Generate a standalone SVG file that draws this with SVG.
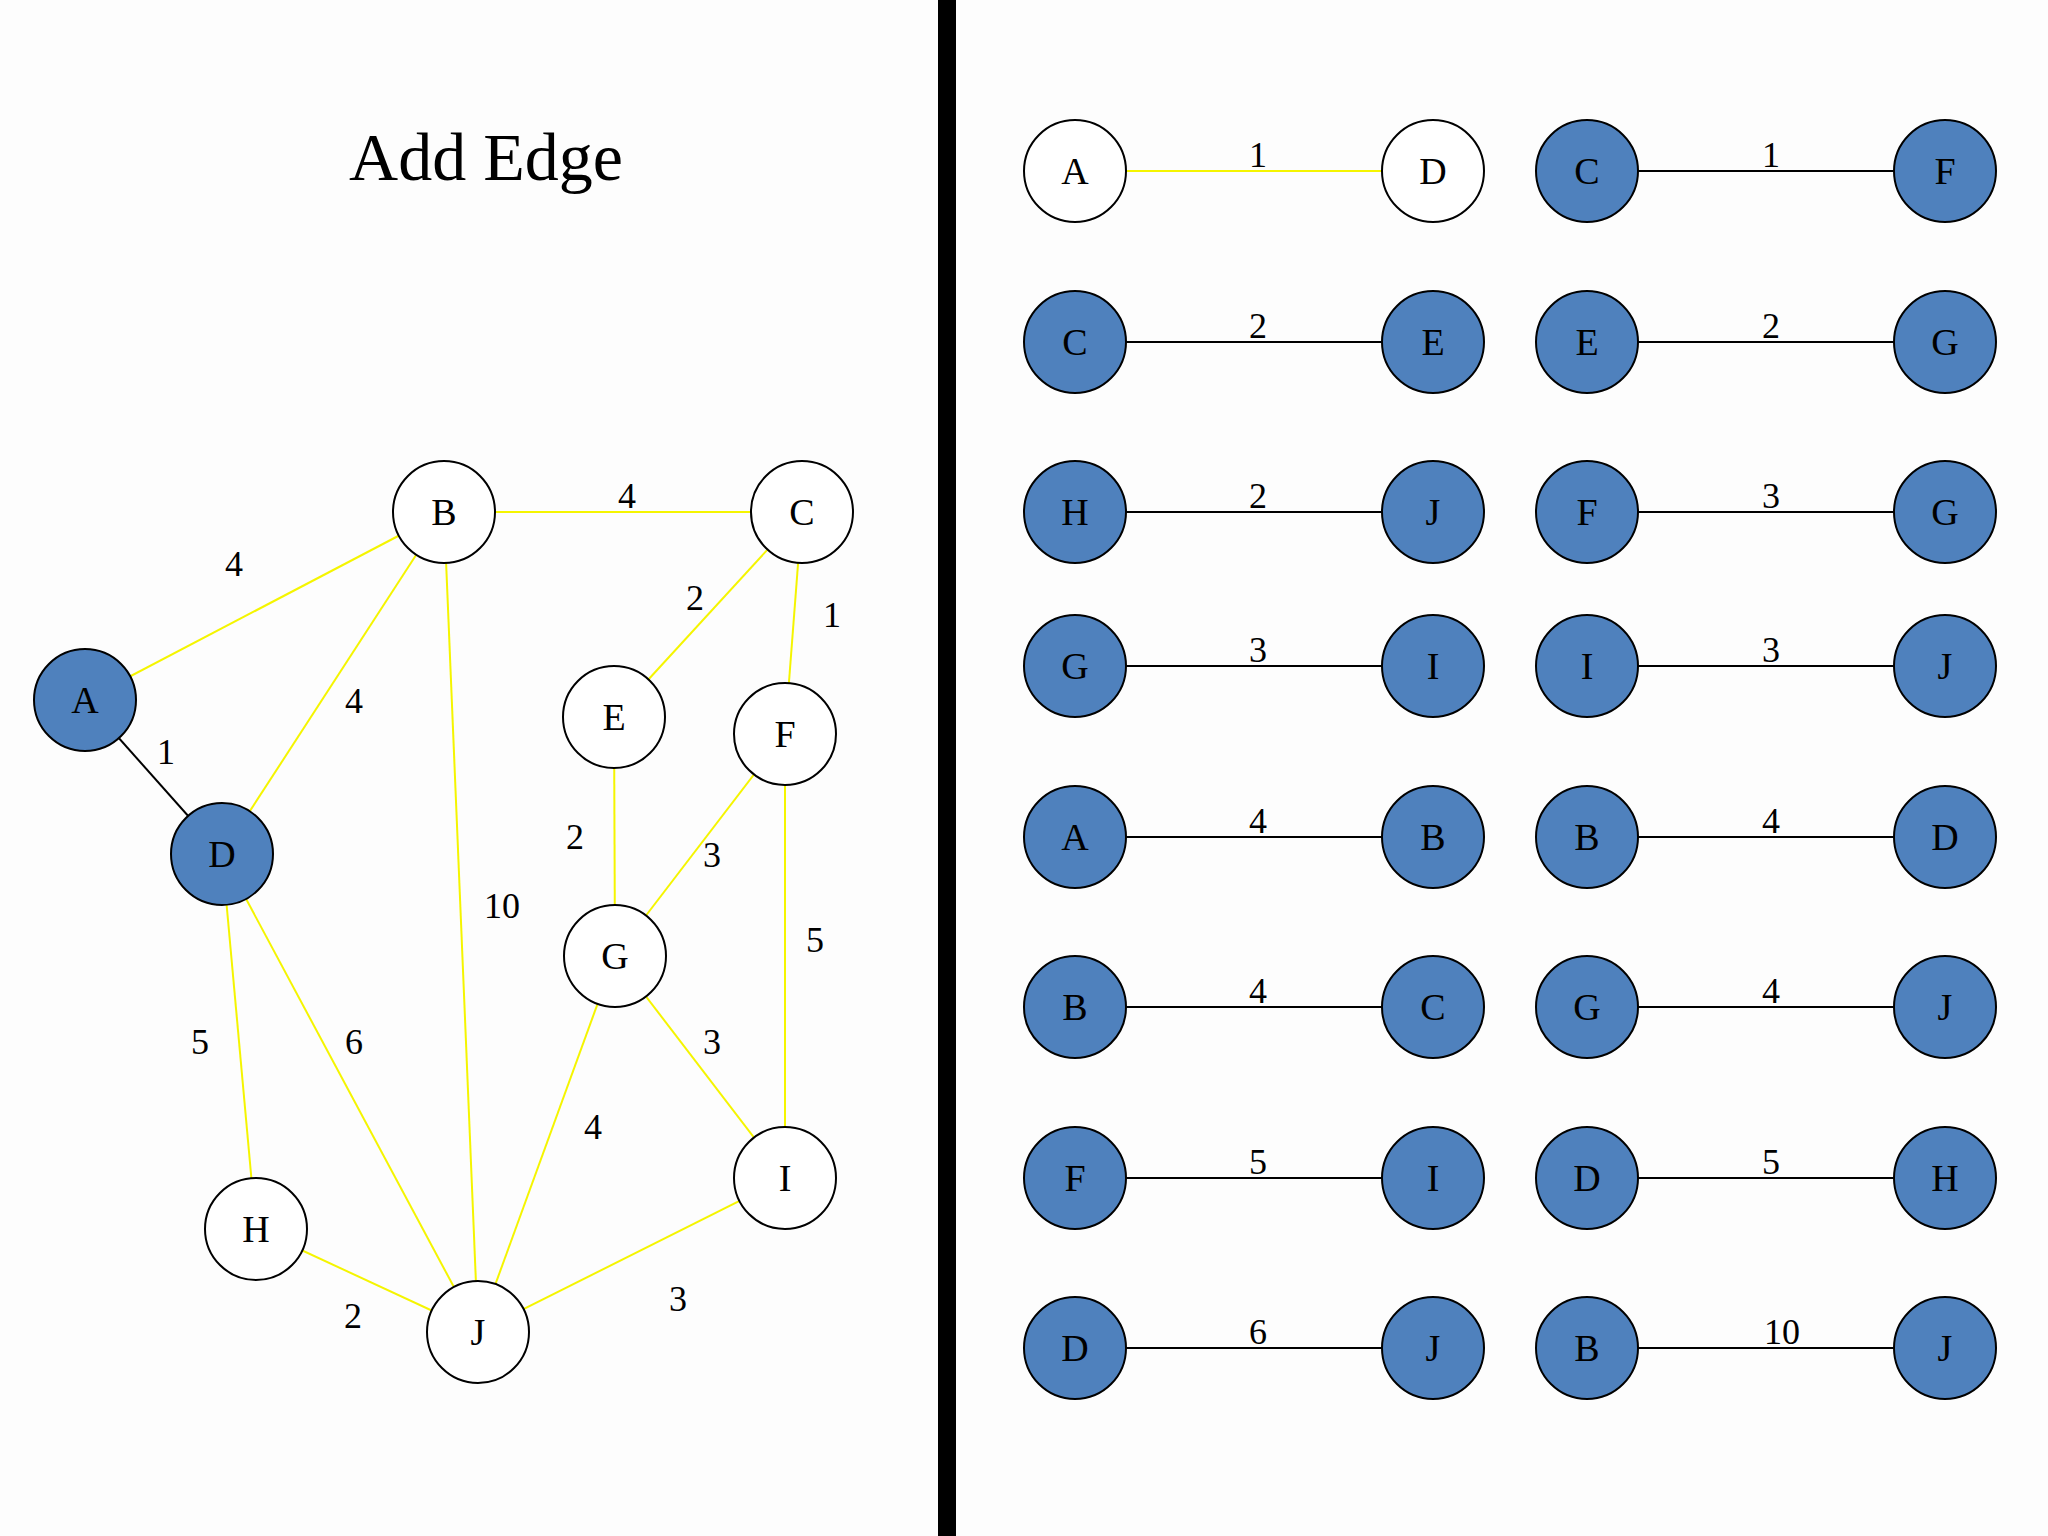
<svg xmlns="http://www.w3.org/2000/svg" width="2048" height="1536" viewBox="0 0 2048 1536">
<style>
text{font-family:"Liberation Serif","Times New Roman",serif;fill:#000;text-anchor:middle;dominant-baseline:central}
.n{font-size:38px}.l{font-size:36px}
circle{stroke:#000;stroke-width:2}
.w{fill:#fff}.b{fill:#4F81BD}
.y{stroke:#f5f500;stroke-width:2}
.k{stroke:#000;stroke-width:2}
</style>
<rect width="2048" height="1536" fill="#fdfdfd"/>
<rect x="938" y="0" width="18" height="1536" fill="#000"/>
<text x="486" y="157" style="font-size:68px">Add Edge</text>
<g id="connectors">
<line class="y" x1="85" y1="700" x2="444" y2="512"/>
<line class="k" x1="85" y1="700" x2="222" y2="854"/>
<line class="y" x1="444" y1="512" x2="222" y2="854"/>
<line class="y" x1="444" y1="512" x2="802" y2="512"/>
<line class="y" x1="444" y1="512" x2="478" y2="1332"/>
<line class="y" x1="802" y1="512" x2="614" y2="717"/>
<line class="y" x1="802" y1="512" x2="785" y2="734"/>
<line class="y" x1="614" y1="717" x2="615" y2="956"/>
<line class="y" x1="785" y1="734" x2="615" y2="956"/>
<line class="y" x1="785" y1="734" x2="785" y2="1178"/>
<line class="y" x1="222" y1="854" x2="256" y2="1229"/>
<line class="y" x1="222" y1="854" x2="478" y2="1332"/>
<line class="y" x1="615" y1="956" x2="785" y2="1178"/>
<line class="y" x1="615" y1="956" x2="478" y2="1332"/>
<line class="y" x1="256" y1="1229" x2="478" y2="1332"/>
<line class="y" x1="478" y1="1332" x2="785" y2="1178"/>
<g class="l">
<text class="l" x="234" y="564">4</text><text class="l" x="166" y="752">1</text>
<text class="l" x="354" y="701">4</text><text class="l" x="627" y="496">4</text>
<text class="l" x="695" y="598">2</text><text class="l" x="832" y="615">1</text>
<text class="l" x="502" y="906">10</text><text class="l" x="575" y="837">2</text>
<text class="l" x="712" y="855">3</text><text class="l" x="815" y="940">5</text>
<text class="l" x="200" y="1042">5</text><text class="l" x="354" y="1042">6</text>
<text class="l" x="712" y="1042">3</text><text class="l" x="593" y="1127">4</text>
<text class="l" x="353" y="1316">2</text><text class="l" x="678" y="1299">3</text>
</g>
<line class="y" x1="1126" y1="171" x2="1382" y2="171"/>
<line class="k" x1="1638" y1="171" x2="1894" y2="171"/>
<line class="k" x1="1126" y1="342" x2="1382" y2="342"/><line class="k" x1="1638" y1="342" x2="1894" y2="342"/>
<line class="k" x1="1126" y1="512" x2="1382" y2="512"/><line class="k" x1="1638" y1="512" x2="1894" y2="512"/>
<line class="k" x1="1126" y1="666" x2="1382" y2="666"/><line class="k" x1="1638" y1="666" x2="1894" y2="666"/>
<line class="k" x1="1126" y1="837" x2="1382" y2="837"/><line class="k" x1="1638" y1="837" x2="1894" y2="837"/>
<line class="k" x1="1126" y1="1007" x2="1382" y2="1007"/><line class="k" x1="1638" y1="1007" x2="1894" y2="1007"/>
<line class="k" x1="1126" y1="1178" x2="1382" y2="1178"/><line class="k" x1="1638" y1="1178" x2="1894" y2="1178"/>
<line class="k" x1="1126" y1="1348" x2="1382" y2="1348"/><line class="k" x1="1638" y1="1348" x2="1894" y2="1348"/>
<text class="l" x="1258" y="155">1</text><text class="l" x="1771" y="155">1</text>
<text class="l" x="1258" y="326">2</text><text class="l" x="1771" y="326">2</text>
<text class="l" x="1258" y="496">2</text><text class="l" x="1771" y="496">3</text>
<text class="l" x="1258" y="650">3</text><text class="l" x="1771" y="650">3</text>
<text class="l" x="1258" y="821">4</text><text class="l" x="1771" y="821">4</text>
<text class="l" x="1258" y="991">4</text><text class="l" x="1771" y="991">4</text>
<text class="l" x="1258" y="1162">5</text><text class="l" x="1771" y="1162">5</text>
<text class="l" x="1258" y="1332">6</text><text class="l" x="1782" y="1332">10</text>
</g>
<g id="graph-nodes">
<g id="nA"><circle class="b" cx="85" cy="700" r="51"/><text class="n" x="85" y="700">A</text></g>
<g id="nB"><circle class="w" cx="444" cy="512" r="51"/><text class="n" x="444" y="512">B</text></g>
<g id="nC"><circle class="w" cx="802" cy="512" r="51"/><text class="n" x="802" y="512">C</text></g>
<g id="nD"><circle class="b" cx="222" cy="854" r="51"/><text class="n" x="222" y="854">D</text></g>
<g id="nE"><circle class="w" cx="614" cy="717" r="51"/><text class="n" x="614" y="717">E</text></g>
<g id="nF"><circle class="w" cx="785" cy="734" r="51"/><text class="n" x="785" y="734">F</text></g>
<g id="nG"><circle class="w" cx="615" cy="956" r="51"/><text class="n" x="615" y="956">G</text></g>
<g id="nH"><circle class="w" cx="256" cy="1229" r="51"/><text class="n" x="256" y="1229">H</text></g>
<g id="nI"><circle class="w" cx="785" cy="1178" r="51"/><text class="n" x="785" y="1178">I</text></g>
<g id="nJ"><circle class="w" cx="478" cy="1332" r="51"/><text class="n" x="478" y="1332">J</text></g>
</g>
<g id="list-nodes">
<g id="r1"><circle class="w" cx="1075" cy="171" r="51"/><text class="n" x="1075" y="171">A</text><circle class="w" cx="1433" cy="171" r="51"/><text class="n" x="1433" y="171">D</text><circle class="b" cx="1587" cy="171" r="51"/><text class="n" x="1587" y="171">C</text><circle class="b" cx="1945" cy="171" r="51"/><text class="n" x="1945" y="171">F</text></g>
<g id="r2"><circle class="b" cx="1075" cy="342" r="51"/><text class="n" x="1075" y="342">C</text><circle class="b" cx="1433" cy="342" r="51"/><text class="n" x="1433" y="342">E</text><circle class="b" cx="1587" cy="342" r="51"/><text class="n" x="1587" y="342">E</text><circle class="b" cx="1945" cy="342" r="51"/><text class="n" x="1945" y="342">G</text></g>
<g id="r3"><circle class="b" cx="1075" cy="512" r="51"/><text class="n" x="1075" y="512">H</text><circle class="b" cx="1433" cy="512" r="51"/><text class="n" x="1433" y="512">J</text><circle class="b" cx="1587" cy="512" r="51"/><text class="n" x="1587" y="512">F</text><circle class="b" cx="1945" cy="512" r="51"/><text class="n" x="1945" y="512">G</text></g>
<g id="r4"><circle class="b" cx="1075" cy="666" r="51"/><text class="n" x="1075" y="666">G</text><circle class="b" cx="1433" cy="666" r="51"/><text class="n" x="1433" y="666">I</text><circle class="b" cx="1587" cy="666" r="51"/><text class="n" x="1587" y="666">I</text><circle class="b" cx="1945" cy="666" r="51"/><text class="n" x="1945" y="666">J</text></g>
<g id="r5"><circle class="b" cx="1075" cy="837" r="51"/><text class="n" x="1075" y="837">A</text><circle class="b" cx="1433" cy="837" r="51"/><text class="n" x="1433" y="837">B</text><circle class="b" cx="1587" cy="837" r="51"/><text class="n" x="1587" y="837">B</text><circle class="b" cx="1945" cy="837" r="51"/><text class="n" x="1945" y="837">D</text></g>
<g id="r6"><circle class="b" cx="1075" cy="1007" r="51"/><text class="n" x="1075" y="1007">B</text><circle class="b" cx="1433" cy="1007" r="51"/><text class="n" x="1433" y="1007">C</text><circle class="b" cx="1587" cy="1007" r="51"/><text class="n" x="1587" y="1007">G</text><circle class="b" cx="1945" cy="1007" r="51"/><text class="n" x="1945" y="1007">J</text></g>
<g id="r7"><circle class="b" cx="1075" cy="1178" r="51"/><text class="n" x="1075" y="1178">F</text><circle class="b" cx="1433" cy="1178" r="51"/><text class="n" x="1433" y="1178">I</text><circle class="b" cx="1587" cy="1178" r="51"/><text class="n" x="1587" y="1178">D</text><circle class="b" cx="1945" cy="1178" r="51"/><text class="n" x="1945" y="1178">H</text></g>
<g id="r8"><circle class="b" cx="1075" cy="1348" r="51"/><text class="n" x="1075" y="1348">D</text><circle class="b" cx="1433" cy="1348" r="51"/><text class="n" x="1433" y="1348">J</text><circle class="b" cx="1587" cy="1348" r="51"/><text class="n" x="1587" y="1348">B</text><circle class="b" cx="1945" cy="1348" r="51"/><text class="n" x="1945" y="1348">J</text></g>
</g>
</svg>
